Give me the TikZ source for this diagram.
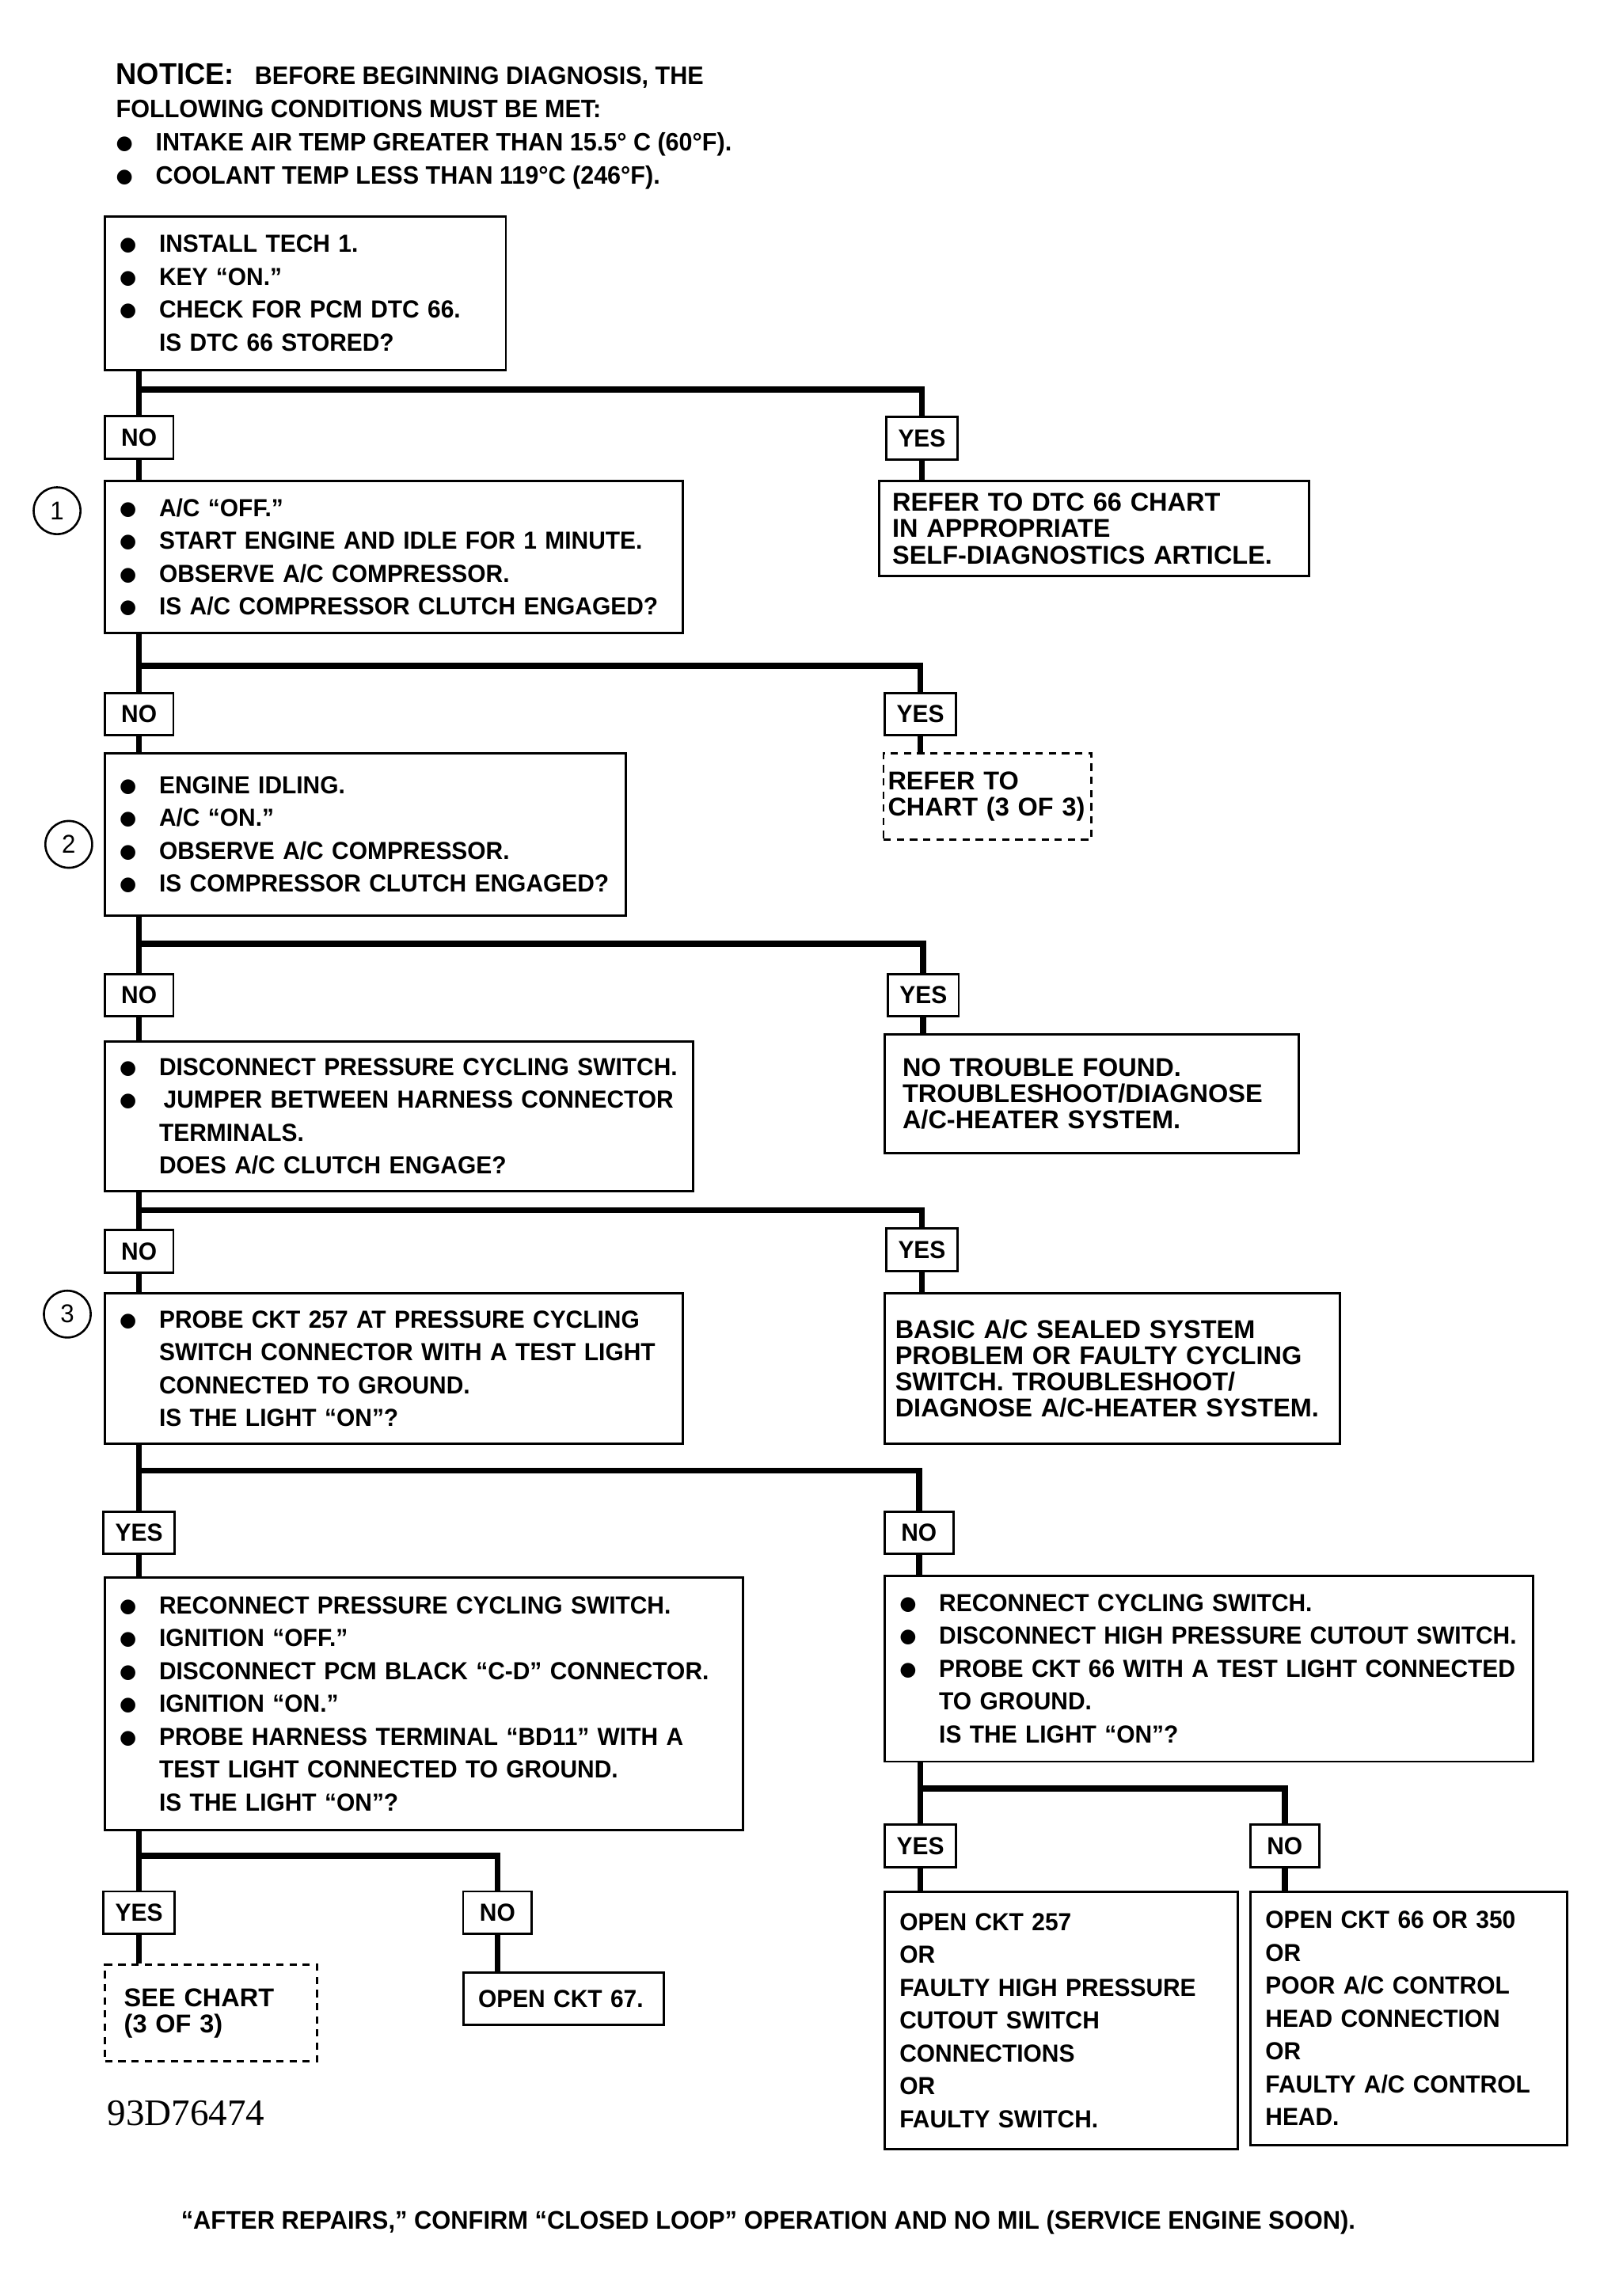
\documentclass[tikz,border=0pt]{standalone}
\usepackage{fontspec}
\setmainfont{Liberation Sans}[FakeStretch=0.96]
\newfontfamily\boxfont{Liberation Sans}
\newfontfamily\idfont{Liberation Serif}
\newfontfamily\symfont{DejaVu Sans}
\usetikzlibrary{positioning, calc}

\newcommand{\bul}{\raisebox{0.6pt}{\symfont\fontsize{7.5}{0}\selectfont ●}}
\newcommand{\itm}{\makebox[0.58cm][l]{\hspace{0.04cm}\bul}}
\newcommand{\gap}{\makebox[0.58cm]{}}

\begin{document}
\begin{tikzpicture}[x=0.02cm, y=-0.02cm,
    stepbox/.style={draw, line width=0.9pt, anchor=north west, align=left,
        inner xsep=0.16cm, inner ysep=0pt, font=\bfseries\fontsize{9.6}{12.8}\selectfont},
    infobox/.style={draw, line width=0.9pt, anchor=north west, align=left,
        inner ysep=0pt, font=\boxfont\bfseries\fontsize{10}{10.2}\selectfont},
    refbox/.style={infobox, dash pattern=on 0.1cm off 0.08cm},
    answer/.style={draw, line width=0.9pt, minimum width=0.94cm, minimum height=0.58cm,
        inner xsep=0.16cm, inner ysep=0pt, font=\bfseries\fontsize{9.6}{11}\selectfont},
    stepnum/.style={draw, circle, line width=0.8pt, minimum size=0.64cm, inner sep=0pt,
        font=\fontsize{10}{12}\selectfont},
    flow/.style={line width=2.4pt}
]
    \useasboundingbox (0,0) rectangle (1093,1569);

    % Notice
    \node[anchor=north west, align=left, inner sep=0pt, font=\bfseries\fontsize{9.8}{12.9}\selectfont] (notice) at (79,43)
        {{\fontsize{11.65}{12.9}\selectfont NOTICE:}\hspace{0.28cm}BEFORE BEGINNING DIAGNOSIS, THE\\
         FOLLOWING CONDITIONS MUST BE MET:\\
         \makebox[0.54cm][l]{\bul}INTAKE AIR TEMP GREATER THAN 15.5° C (60°F).\\
         \makebox[0.54cm][l]{\bul}COOLANT TEMP LESS THAN 119°C (246°F).};

    % Step 1: DTC check
    \node[stepbox, text width=5.16cm, minimum height=2.1cm] (s1) at (71,147)
        {\itm INSTALL TECH 1.\\ \itm KEY “ON.”\\ \itm CHECK FOR PCM DTC 66.\\ \gap IS DTC 66 STORED?};
    \node[answer] (no1) at (95,299) {NO};
    \node[answer] (yes1) at (630,299.5) {YES};
    \node[infobox, inner xsep=0.18cm, text width=5.52cm, minimum height=1.3cm] (dtc) at (600,328)
        {REFER TO DTC 66 CHART\\ IN APPROPRIATE\\ SELF-DIAGNOSTICS ARTICLE.};
    \node[stepbox, text width=7.58cm, minimum height=2.08cm] (s2) at (71,328)
        {\itm A/C “OFF.”\\ \itm START ENGINE AND IDLE FOR 1 MINUTE.\\ \itm OBSERVE A/C COMPRESSOR.\\
         \itm IS A/C COMPRESSOR CLUTCH ENGAGED?};
    \node[stepnum] (c1) at (39,349) {1};
    \coordinate (j1) at (95,266);
    \draw[flow] (s1.south -| no1) -- (no1.north);
    \draw[flow] (j1) -| (yes1.north);
    \draw[flow] (no1.south) -- (no1.south |- s2.north);
    \draw[flow] (yes1.south) -- (yes1.south |- dtc.north);

    % Step 2: A/C off
    \node[answer] (no2) at (95,488) {NO};
    \node[answer] (yes2) at (629,488) {YES};
    \node[refbox, inner xsep=0.06cm, text width=2.72cm, minimum height=1.18cm] (chart1) at (603,514)
        {REFER TO\\ CHART (3 OF 3)};
    \node[stepbox, text width=6.8cm, minimum height=2.22cm] (s3) at (71,514)
        {\itm ENGINE IDLING.\\ \itm A/C “ON.”\\ \itm OBSERVE A/C COMPRESSOR.\\ \itm IS COMPRESSOR CLUTCH ENGAGED?};
    \node[stepnum] (c2) at (47,577) {2};
    \coordinate (j2) at (95,455);
    \draw[flow] (s2.south -| no2) -- (no2.north);
    \draw[flow] (j2) -| (yes2.north);
    \draw[flow] (no2.south) -- (no2.south |- s3.north);
    \draw[flow] (yes2.south) -- (yes2.south |- chart1.north);

    % Step 3: A/C on
    \node[answer] (no3) at (95,680) {NO};
    \node[answer] (yes3) at (631,680) {YES};
    \node[infobox, inner xsep=0.24cm, text width=5.18cm, minimum height=1.62cm] (ntf) at (604,706)
        {NO TROUBLE FOUND.\\ TROUBLESHOOT/DIAGNOSE\\ A/C-HEATER SYSTEM.};
    \node[stepbox, text width=7.72cm, minimum height=2.04cm] (s4) at (71,711)
        {\itm DISCONNECT PRESSURE CYCLING SWITCH.\\ \itm\hspace{0.06cm}JUMPER BETWEEN HARNESS CONNECTOR\\
         \gap TERMINALS.\\ \gap DOES A/C CLUTCH ENGAGE?};
    \coordinate (j3) at (95,645);
    \draw[flow] (s3.south -| no3) -- (no3.north);
    \draw[flow] (j3) -| (yes3.north);
    \draw[flow] (no3.south) -- (no3.south |- s4.north);
    \draw[flow] (yes3.south) -- (yes3.south |- ntf.north);

    % Step 4: jumper
    \node[answer] (no4) at (95,855) {NO};
    \node[answer] (yes4) at (630,854) {YES};
    \node[infobox, inner xsep=0.14cm, text width=5.94cm, minimum height=2.06cm] (sealed) at (604,883)
        {BASIC A/C SEALED SYSTEM\\ PROBLEM OR FAULTY CYCLING\\ SWITCH. TROUBLESHOOT/\\ DIAGNOSE A/C-HEATER SYSTEM.};
    \node[stepbox, text width=7.58cm, minimum height=2.06cm] (s5) at (71,883)
        {\itm PROBE CKT 257 AT PRESSURE CYCLING\\ \gap SWITCH CONNECTOR WITH A TEST LIGHT\\
         \gap CONNECTED TO GROUND.\\ \gap IS THE LIGHT “ON”?};
    \node[stepnum] (c3) at (46,898) {3};
    \coordinate (j4) at (95,827);
    \draw[flow] (s4.south -| no4) -- (no4.north);
    \draw[flow] (j4) -| (yes4.north);
    \draw[flow] (no4.south) -- (no4.south |- s5.north);
    \draw[flow] (yes4.south) -- (yes4.south |- sealed.north);

    % Step 5: probe CKT 257
    \node[answer] (yes5) at (95,1047.5) {YES};
    \node[answer] (no5) at (628,1047.5) {NO};
    \node[stepbox, text width=8.4cm, minimum height=3.46cm] (s6) at (71,1077)
        {\itm RECONNECT PRESSURE CYCLING SWITCH.\\ \itm IGNITION “OFF.”\\
         \itm DISCONNECT PCM BLACK “C-D” CONNECTOR.\\ \itm IGNITION “ON.”\\
         \itm PROBE HARNESS TERMINAL “BD11” WITH A\\ \gap TEST LIGHT CONNECTED TO GROUND.\\
         \gap IS THE LIGHT “ON”?};
    \node[stepbox, text width=8.54cm, minimum height=2.54cm] (s7) at (604,1076)
        {\itm RECONNECT CYCLING SWITCH.\\ \itm DISCONNECT HIGH PRESSURE CUTOUT SWITCH.\\
         \itm PROBE CKT 66 WITH A TEST LIGHT CONNECTED\\ \gap TO GROUND.\\ \gap IS THE LIGHT “ON”?};
    \coordinate (j5) at (95,1005);
    \draw[flow] (s5.south -| yes5) -- (yes5.north);
    \draw[flow] (j5) -| (no5.north);
    \draw[flow] (yes5.south) -- (yes5.south |- s6.north);
    \draw[flow] (no5.south) -- (no5.south |- s7.north);

    % Step 6: terminal BD11
    \node[answer] (yes6) at (95,1307) {YES};
    \node[answer] (no6) at (340,1307) {NO};
    \node[refbox, inner xsep=0.26cm, text width=2.38cm, minimum height=1.32cm] (chart2) at (71,1342)
        {SEE CHART\\ (3 OF 3)};
    \node[stepbox, inner xsep=0.2cm, text width=2.34cm, minimum height=0.72cm] (ckt67) at (316,1347) {OPEN CKT 67.};
    \coordinate (j6) at (95,1268);
    \draw[flow] (s6.south -| yes6) -- (yes6.north);
    \draw[flow] (j6) -| (no6.north);
    \draw[flow] (yes6.south) -- (yes6.south |- chart2.north);
    \draw[flow] (no6.south) -- (no6.south |- ckt67.north);

    % Step 7: CKT 66
    \node[answer] (yes7) at (629,1261.5) {YES};
    \node[answer] (no7) at (878,1261.5) {NO};
    \node[stepbox, inner xsep=0.2cm, text width=4.42cm, minimum height=3.52cm] (ckt257) at (604,1292)
        {OPEN CKT 257\\ OR\\ FAULTY HIGH PRESSURE\\ CUTOUT SWITCH\\ CONNECTIONS\\ OR\\ FAULTY SWITCH.};
    \node[stepbox, inner xsep=0.2cm, text width=3.92cm, minimum height=3.46cm] (head) at (854,1292)
        {OPEN CKT 66 OR 350\\ OR\\ POOR A/C CONTROL\\ HEAD CONNECTION\\ OR\\ FAULTY A/C CONTROL\\ HEAD.};
    \coordinate (j7) at (629,1222);
    \draw[flow] (s7.south -| yes7) -- (yes7.north);
    \draw[flow] (j7) -| (no7.north);
    \draw[flow] (yes7.south) -- (yes7.south |- ckt257.north);
    \draw[flow] (no7.south) -- (no7.south |- head.north);

    % Figure number and footer
    \node[anchor=west, inner sep=0pt, font=\idfont\fontsize{14.5}{16}\selectfont] (figid) at (73,1444) {93D76474};
    \node[inner sep=0pt, font=\bfseries\fontsize{9.9}{11}\selectfont] (repairs) at (525,1519)
        {“AFTER REPAIRS,” CONFIRM “CLOSED LOOP” OPERATION AND NO MIL (SERVICE ENGINE SOON).};
\end{tikzpicture}
\end{document}
